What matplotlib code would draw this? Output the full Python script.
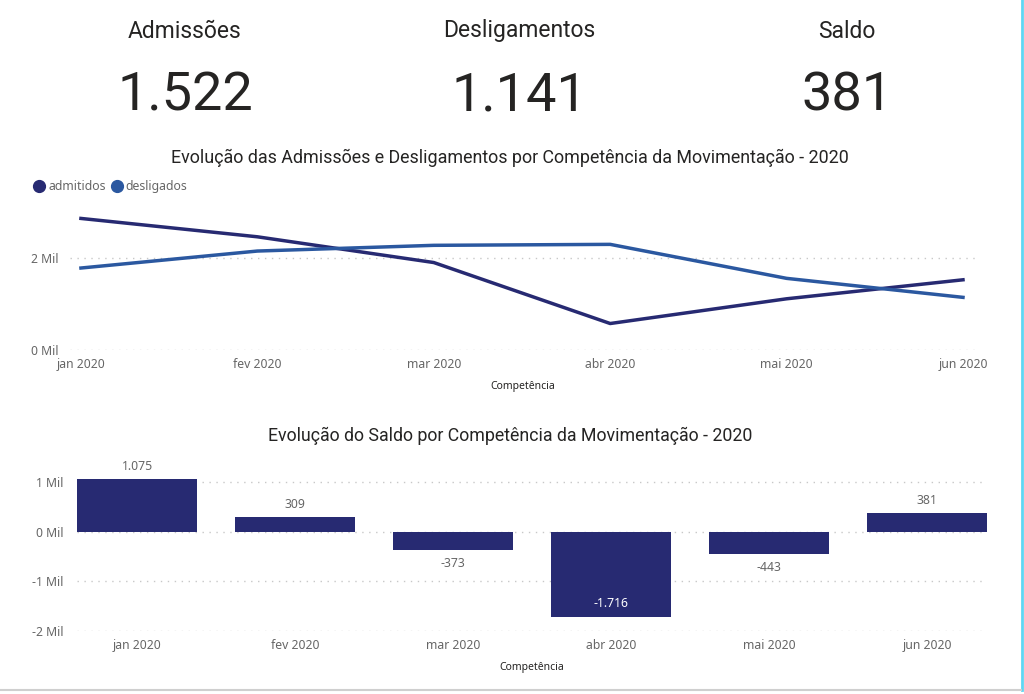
import numpy as np
import matplotlib
matplotlib.use("Agg")
import matplotlib.pyplot as plt
from matplotlib.lines import Line2D
from matplotlib.ticker import FuncFormatter

meses = ['jan 2020', 'fev 2020', 'mar 2020', 'abr 2020', 'mai 2020', 'jun 2020']
admitidos = [2852, 2454, 1896, 574, 1110, 1522]
desligados = [1777, 2145, 2269, 2290, 1553, 1141]
saldo = [1075, 309, -373, -1716, -443, 381]
kpi_titulos = ['Admissões', 'Desligamentos', 'Saldo']
kpi_valores = ['1.522', '1.141', '381']

cor_adm = '#272a72'
cor_desl = '#2b58a0'
cinza = '#666666'

plt.rcParams['font.family'] = ['Noto Sans', 'DejaVu Sans']

fig = plt.figure(figsize=(10.24, 6.94), dpi=100)
fig.patch.set_facecolor('white')

# KPI cards
kpi_x = [185 / 1024, 519 / 1024, 847 / 1024]
for x, t, v in zip(kpi_x, kpi_titulos, kpi_valores):
    fig.text(x, 1 - 31 / 694, t, ha='center', va='center', fontsize=16.5,
             family='Roboto', color='#252423')
    fig.text(x, 1 - 96 / 694, v, ha='center', va='center', fontsize=39,
             family='Roboto', color='#252423')


def mil(v, pos):
    return '%d Mil' % int(round(v / 1000))


def estilo(ax):
    for s in ax.spines.values():
        s.set_visible(False)
    ax.tick_params(length=0, labelsize=8.8, labelcolor=cinza)
    ax.grid(axis='y', linestyle=(0, (1, 4)), color='#c8c8c8', linewidth=1)
    ax.set_axisbelow(True)
    ax.yaxis.set_major_formatter(FuncFormatter(mil))
    ax.set_xlabel('Competência', fontsize=7.5, color='#252423', fontweight='bold', labelpad=7)


# line chart
ax1 = fig.add_axes([70 / 1024, 1 - 350 / 694, 905 / 1024, 155 / 694])
x = np.arange(len(meses))
ax1.plot(x, admitidos, color=cor_adm, lw=2.5, label='admitidos')
ax1.plot(x, desligados, color=cor_desl, lw=2.5, label='desligados')
ax1.set_xlim(-0.062, 5.068)
ax1.set_ylim(0, 3360)
ax1.set_yticks([0, 2000])
ax1.set_xticks(x)
ax1.set_xticklabels(meses)
estilo(ax1)
ax1.tick_params(axis='y', pad=8)
ax1.tick_params(axis='x', pad=6)
ax1.set_title('Evolução das Admissões e Desligamentos por Competência da Movimentação - 2020',
              fontsize=12.9, family='Roboto', color='#252423', pad=23, x=0.486)
handles = [Line2D([], [], marker='o', ls='', color=c, markersize=8.5) for c in (cor_adm, cor_desl)]
fig.legend(handles, ['admitidos', 'desligados'], loc='center left',
           bbox_to_anchor=(28 / 1024, 1 - 187 / 694), ncol=2, frameon=False,
           fontsize=8.8, labelcolor=cinza, handletextpad=0.35, columnspacing=0.5,
           borderpad=0, handlelength=0.8)

# bar chart
ax2 = fig.add_axes([77 / 1024, 1 - 631 / 694, 910 / 1024, 161 / 694])
ax2.bar(x, saldo, width=0.76, color=cor_adm)
ax2.set_xlim(-0.38, 5.38)
ax2.set_ylim(-2000, 1250)
ax2.set_yticks([-2000, -1000, 0, 1000])
ax2.set_xticks(x)
ax2.set_xticklabels(meses)
estilo(ax2)
ax2.tick_params(axis='y', pad=10)
ax2.tick_params(axis='x', pad=6)
ax2.set_title('Evolução do Saldo por Competência da Movimentação - 2020',
              fontsize=12.8, family='Roboto', color='#252423', pad=21, x=0.476)
for xi, v in zip(x, saldo):
    txt = f'{v:,}'.replace(',', '.')
    if v >= 0:
        ax2.annotate(txt, (xi, v), xytext=(0, 4), textcoords='offset points',
                     ha='center', va='bottom', fontsize=8.8, color=cinza)
    elif v > -1500:
        ax2.annotate(txt, (xi, v), xytext=(0, -5), textcoords='offset points',
                     ha='center', va='top', fontsize=8.8, color=cinza)
    else:
        ax2.annotate(txt, (xi, v), xytext=(0, 5), textcoords='offset points',
                     ha='center', va='bottom', fontsize=8.8, color='white')

# page borders
fig.add_artist(Line2D([1022 / 1024, 1022 / 1024], [1 - 690 / 694, 1], color='#5fd6f2', lw=2))
fig.add_artist(Line2D([0, 1021 / 1024], [1 - 690 / 694, 1 - 690 / 694], color='#cfcfcf', lw=1.5))

fig.savefig('out.png', dpi=100)
